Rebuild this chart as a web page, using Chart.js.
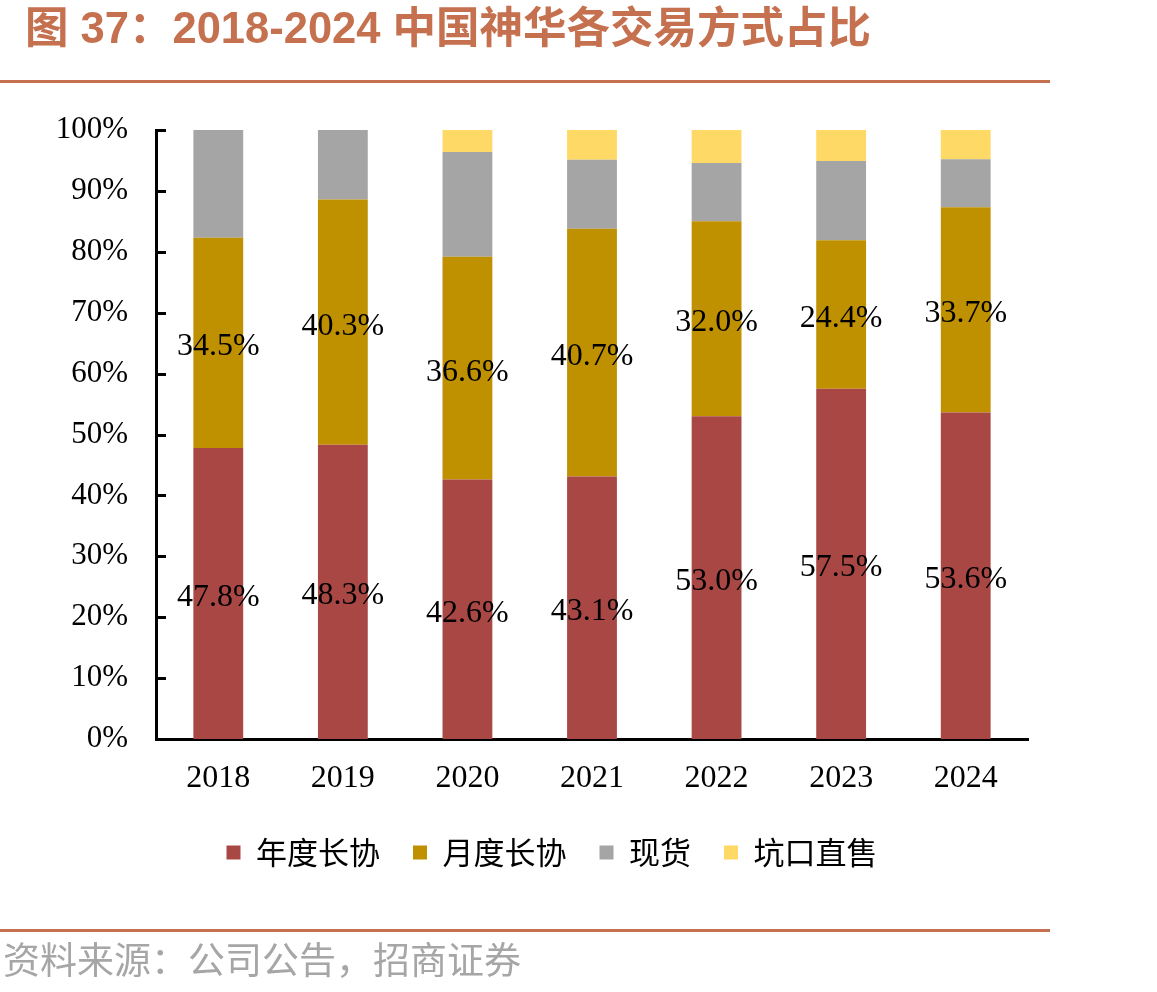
<!DOCTYPE html>
<html><head><meta charset="utf-8">
<script src="https://cdn.jsdelivr.net/npm/chart.js@4.4.1/dist/chart.umd.min.js"></script>
<style>
html,body{margin:0;padding:0;background:#fff;}
#wrap{position:relative;width:1157px;height:992px;overflow:hidden;}
#title{position:absolute;left:25px;top:5px;font-family:"Liberation Sans","Noto Sans CJK SC",sans-serif;font-weight:bold;font-size:43.5px;line-height:46px;color:#C5714F;white-space:nowrap;}
.rule{position:absolute;left:0;width:1050px;height:3px;background:#C5714F;}
#source{position:absolute;left:3px;top:935px;font-family:"Noto Sans CJK SC",sans-serif;font-size:37px;line-height:46px;color:#A6A6A6;white-space:nowrap;}
#c{position:absolute;left:0;top:0;}
</style></head>
<body><div id="wrap">
<canvas id="c" width="1157" height="992"></canvas>
<div id="title">图 37：2018-2024 中国神华各交易方式占比</div>
<div class="rule" style="top:80px"></div>
<div class="rule" style="top:929px"></div>
<div id="source">资料来源：公司公告，招商证券</div>
</div>
<script>
const categories = ['2018','2019','2020','2021','2022','2023','2024'];
const annualContract = [47.8, 48.3, 42.6, 43.1, 53.0, 57.5, 53.6];
const monthlyContract = [34.5, 40.3, 36.6, 40.7, 32.0, 24.4, 33.7];
const spotSales = [17.7, 11.4, 17.2, 11.3, 9.6, 13.0, 7.9];
const pitheadSales = [0, 0, 3.6, 4.9, 5.4, 5.1, 4.8];
const seriesNames = ['年度长协','月度长协','现货','坑口直售'];
const yTicks = [0,10,20,30,40,50,60,70,80,90,100];

const serif = '"Liberation Serif","Times New Roman",serif';
const cjk = '"Noto Sans CJK SC",sans-serif';

const labelPlugin = {
  id: 'segLabels',
  afterLayout(chart) {
    chart.legend.left = 76;
    chart.legend.right = 1028;
  },
  afterDatasetsDraw(chart) {
    const ctx = chart.ctx;
    ctx.save();
    ctx.font = '32px ' + serif;
    ctx.fillStyle = '#000';
    ctx.textAlign = 'center';
    ctx.textBaseline = 'middle';
    [0,1].forEach(di => {
      const meta = chart.getDatasetMeta(di);
      const data = chart.data.datasets[di].data;
      meta.data.forEach((el, i) => {
        const y = (el.y + el.base) / 2 + 4;
        ctx.fillText(data[i].toFixed(1) + '%', el.x, y);
      });
    });
    ctx.restore();
  },
  afterDraw(chart) {
    const ctx = chart.ctx;
    const ys = chart.scales.y;
    const left = chart.chartArea.left;
    ctx.save();
    ctx.strokeStyle = '#000';
    ctx.lineWidth = 3;
    yTicks.forEach(v => {
      const y = Math.round(ys.getPixelForValue(v)) + 0.5;
      ctx.beginPath();
      ctx.moveTo(left, y);
      ctx.lineTo(left + 10, y);
      ctx.stroke();
    });
    ctx.restore();
  }
};

new Chart(document.getElementById('c'), {
  type: 'bar',
  data: {
    labels: categories,
    datasets: [
      {label: seriesNames[0], data: annualContract, backgroundColor: '#A94745'},
      {label: seriesNames[1], data: monthlyContract, backgroundColor: '#BF9000'},
      {label: seriesNames[2], data: spotSales, backgroundColor: '#A5A5A5'},
      {label: seriesNames[3], data: pitheadSales, backgroundColor: '#FFD966'}
    ]
  },
  options: {
    responsive: false,
    animation: false,
    devicePixelRatio: 1,
    layout: {padding: {left: 0, right: 129, top: 130, bottom: 114}},
    datasets: {bar: {barPercentage: 0.4, categoryPercentage: 1.0, borderWidth: 0}},
    plugins: {
      title: {display: false},
      tooltip: {enabled: false},
      legend: {
        position: 'bottom',
        labels: {
          boxWidth: 14, boxHeight: 14, padding: 33,
          color: '#000',
          font: {family: cjk, size: 31}
        }
      }
    },
    scales: {
      x: {
        stacked: true,
        grid: {display: false},
        border: {display: true, color: '#000', width: 3},
        ticks: {color: '#000', font: {family: serif, size: 32}, padding: 12, maxRotation: 0},
        afterFit(s) { s.height = 65; }
      },
      y: {
        stacked: true,
        min: 0, max: 100,
        grid: {display: false},
        border: {display: true, color: '#000', width: 3},
        afterBuildTicks(s) { s.ticks = yTicks.map(v => ({value: v})); },
        ticks: {color: '#000', font: {family: serif, size: 31}, padding: 20,
          callback: v => v + '%'},
        afterFit(s) { s.width = 156; }
      }
    }
  },
  plugins: [labelPlugin]
});
</script>
</body></html>
